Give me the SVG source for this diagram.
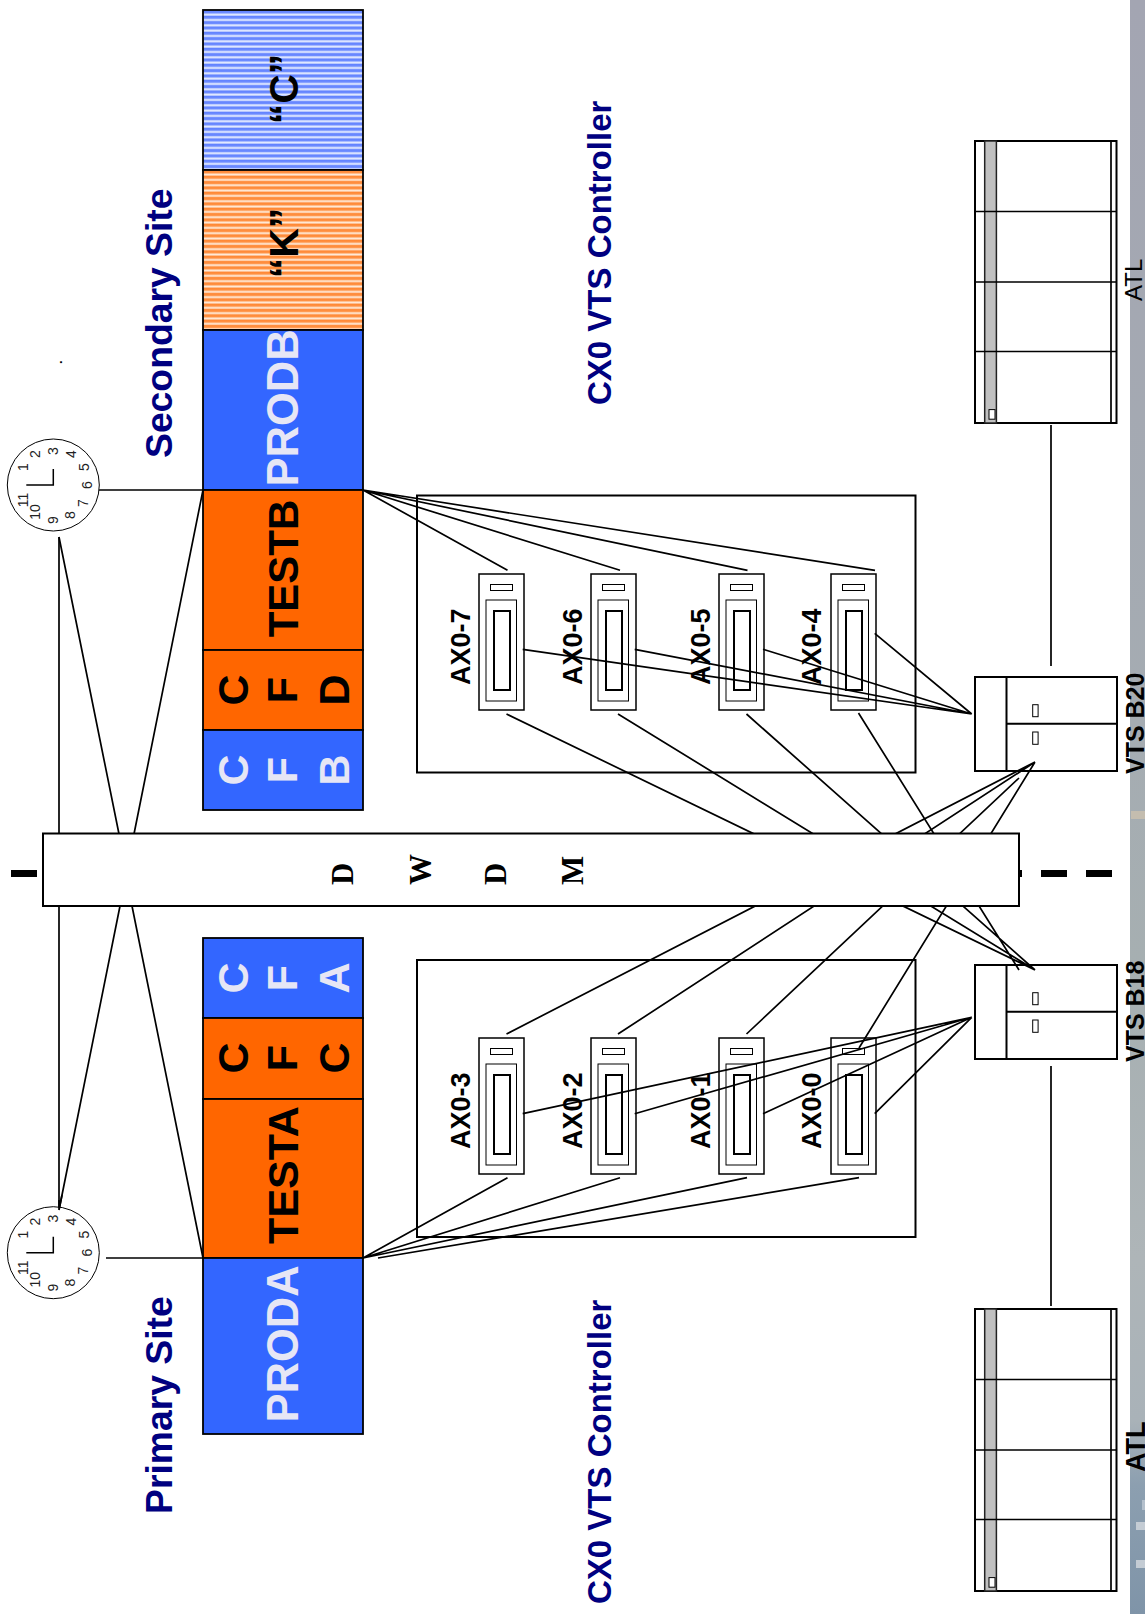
<svg xmlns="http://www.w3.org/2000/svg" width="1145" height="1614" viewBox="0 0 1145 1614">
<style>
.ln{stroke:#000;stroke-width:1.7;fill:none}
.box{stroke:#000;stroke-width:1.5;fill:#fff}
.thk{stroke:#000;stroke-width:2;fill:#fff}
.seg{stroke:#000;stroke-width:1.8}
text{font-family:"Liberation Sans",Arial,sans-serif}
.big{font-weight:700;font-size:43.500px;fill:#e6e6f5;text-anchor:middle}
.bl{font-weight:700;font-size:43.500px;fill:#000;text-anchor:middle}
.let{font-size:43px}
.navy{font-weight:700;fill:#000080}
.ax{font-weight:700;font-size:27px;fill:#000}
.dw{font-family:"Liberation Serif",serif;font-weight:700;font-size:31px;fill:#000}
.n{font-size:14px;fill:#222;text-anchor:middle}
</style>
<defs>
<linearGradient id="band" x1="0" y1="0" x2="0" y2="1">
<stop offset="0" stop-color="#a3a5b2"/><stop offset="0.45" stop-color="#a5acb2"/><stop offset="0.6" stop-color="#a6afb1"/><stop offset="0.78" stop-color="#aeb5b8"/><stop offset="0.88" stop-color="#a9b2b8"/><stop offset="0.92" stop-color="#8c9fb0"/><stop offset="1" stop-color="#7f94a8"/>
</linearGradient>
<linearGradient id="gb" x1="0" y1="0" x2="0" y2="1"><stop offset="0" stop-color="#5f80ff"/><stop offset="0.42" stop-color="#6f8dff"/><stop offset="0.62" stop-color="#c9d6ff"/><stop offset="0.8" stop-color="#f0f4ff"/><stop offset="1" stop-color="#90a8ff"/></linearGradient>
<linearGradient id="go" x1="0" y1="0" x2="0" y2="1"><stop offset="0" stop-color="#ff8632"/><stop offset="0.42" stop-color="#ff9245"/><stop offset="0.62" stop-color="#ffd2ae"/><stop offset="0.8" stop-color="#fff1e6"/><stop offset="1" stop-color="#ffa868"/></linearGradient>
<pattern id="pb" width="10" height="5.330" patternUnits="userSpaceOnUse"><rect width="10" height="5.330" fill="url(#gb)"/></pattern>
<pattern id="po" width="10" height="5.330" patternUnits="userSpaceOnUse"><rect width="10" height="5.330" fill="url(#go)"/></pattern>
<g id="dev">
<rect class="box" x="0" y="0" width="45" height="136"/>
<rect x="11.500" y="10.500" width="22" height="6" fill="#fff" stroke="#000" stroke-width="1"/>
<rect x="7" y="26" width="30.500" height="101" fill="#fff" stroke="#000" stroke-width="1"/>
<rect x="15" y="37" width="16" height="79" fill="#fff" stroke="#000" stroke-width="2"/>
</g>
<g id="vts">
<rect class="thk" x="0" y="0" width="142" height="94"/>
<path class="thk" d="M31.500 0V94M31.500 46.700H142"/>
<rect x="57.700" y="27.700" width="5.400" height="12" fill="#fff" stroke="#000" stroke-width="1"/>
<rect x="57.700" y="55" width="5.400" height="12.300" fill="#fff" stroke="#000" stroke-width="1"/>
</g>
<g id="atl">
<rect class="thk" x="0" y="0" width="141.500" height="282"/>
<rect x="9.700" y="0" width="11.700" height="282" fill="#c0c0c0" stroke="#222" stroke-width="1.500"/>
<path class="ln" d="M136 0V282M0 70.500H141.500M0 141H141.500M0 210.500H141.500"/>
<rect x="14" y="268.600" width="6" height="9.600" fill="#fff" stroke="#000" stroke-width="1"/>
</g>
<g id="clock">
<circle cx="0" cy="0" r="46" fill="#fff" stroke="#000" stroke-width="1"/>
<path d="M-27 0H0V-16" fill="none" stroke="#000" stroke-width="1.500"/>
<text class="n" transform="translate(-30,-18) rotate(-90)" y="5">1</text>
<text class="n" transform="translate(-18,-31) rotate(-90)" y="5">2</text>
<text class="n" transform="translate(0,-34) rotate(-90)" y="5">3</text>
<text class="n" transform="translate(18,-31) rotate(-90)" y="5">4</text>
<text class="n" transform="translate(31,-18) rotate(-90)" y="5">5</text>
<text class="n" transform="translate(34,0) rotate(-90)" y="5">6</text>
<text class="n" transform="translate(30,18) rotate(-90)" y="5">7</text>
<text class="n" transform="translate(17,30) rotate(-90)" y="5">8</text>
<text class="n" transform="translate(0,35) rotate(-90)" y="5">9</text>
<text class="n" transform="translate(-18,27) rotate(-90)" y="5">10</text>
<text class="n" transform="translate(-30,15) rotate(-90)" y="5">11</text>
</g>
</defs>
<rect width="1145" height="1614" fill="#fff"/>
<g id="band-right">
<rect x="1130" y="0" width="15" height="1614" fill="url(#band)"/>
<rect x="1131" y="811" width="14" height="8" fill="#c4bdaf"/>
<rect x="1136" y="1522" width="9" height="8" fill="#c4ccd4"/>
<rect x="1136" y="1560" width="9" height="8" fill="#c4ccd4"/>
<rect x="1142" y="1500" width="3" height="10" fill="#b4c0cc"/>
</g>

<g id="storage-upper">
<rect class="seg" x="203" y="10" width="160" height="160" fill="url(#pb)"/>
<rect class="seg" x="203" y="170" width="160" height="160" fill="url(#po)"/>
<rect class="seg" x="203" y="330" width="160" height="160" fill="#3366ff"/>
<rect class="seg" x="203" y="490" width="160" height="160" fill="#ff6600"/>
<rect class="seg" x="203" y="650" width="160" height="80" fill="#ff6600"/>
<rect class="seg" x="203" y="730" width="160" height="80" fill="#3366ff"/>
<text class="bl" transform="translate(298,89) rotate(-90)" style="font-size:41px">“C”</text>
<text class="bl" transform="translate(298,243) rotate(-90)" style="font-size:41px">“K”</text>
<text class="big" transform="translate(298,408) rotate(-90)">PRODB</text>
<text class="bl" transform="translate(298,568.500) rotate(-90)" style="font-size:42px">TESTB</text>
<text class="bl let" transform="translate(248,690) rotate(-90)">C</text>
<text class="bl let" transform="translate(297,690) rotate(-90)">F</text>
<text class="bl let" transform="translate(349,690) rotate(-90)">D</text>
<text class="big let" transform="translate(248,770) rotate(-90)">C</text>
<text class="big let" transform="translate(297,770) rotate(-90)">F</text>
<text class="big let" transform="translate(349,770) rotate(-90)">B</text>
</g>
<g id="storage-lower">
<rect class="seg" x="203" y="938" width="160" height="80" fill="#3366ff"/>
<rect class="seg" x="203" y="1018" width="160" height="81" fill="#ff6600"/>
<rect class="seg" x="203" y="1099" width="160" height="159" fill="#ff6600"/>
<rect class="seg" x="203" y="1258" width="160" height="176" fill="#3366ff"/>
<text class="big let" transform="translate(248,978) rotate(-90)">C</text>
<text class="big let" transform="translate(297,978) rotate(-90)">F</text>
<text class="big let" transform="translate(349,978) rotate(-90)">A</text>
<text class="bl let" transform="translate(248,1058) rotate(-90)">C</text>
<text class="bl let" transform="translate(297,1058) rotate(-90)">F</text>
<text class="bl let" transform="translate(349,1058) rotate(-90)">C</text>
<text class="bl" transform="translate(298,1175) rotate(-90)" style="font-size:43px">TESTA</text>
<text class="big" transform="translate(298,1344) rotate(-90)">PRODA</text>
</g>

<g id="ctrl-upper"><rect x="417" y="495.500" width="498.500" height="277" fill="none" stroke="#000" stroke-width="2"/></g>
<g id="ctrl-lower"><rect x="417" y="960" width="498.500" height="277" fill="none" stroke="#000" stroke-width="2"/></g>

<use id="vts-b20" href="#vts" x="975" y="677"/>
<use id="vts-b18" href="#vts" x="975" y="965"/>
<use id="atl-up" href="#atl" x="975" y="141"/>
<use id="atl-low" href="#atl" x="975" y="1309"/>
<use id="AX0-7" href="#dev" x="479" y="574"/>
<use id="AX0-6" href="#dev" x="591" y="574"/>
<use id="AX0-5" href="#dev" x="719" y="574"/>
<use id="AX0-4" href="#dev" x="831" y="574"/>
<use id="AX0-3" href="#dev" x="479" y="1038"/>
<use id="AX0-2" href="#dev" x="591" y="1038"/>
<use id="AX0-1" href="#dev" x="719" y="1038"/>
<use id="AX0-0" href="#dev" x="831" y="1038"/>

<g id="connectors" class="ln">
<path d="M59 537V1210"/>
<path d="M59 537L119 834M59 1210L120 906M203 490L134 834M203 1258L132 906"/>
<path d="M90 490H203M106 1258H203"/>
<path d="M363 490L507.500 570.300M363 490L620 570.300M363 490L747.500 570.300M363 490L875 570.300"/>
<path d="M363 1258L507.500 1177.700M363 1258L620 1177.700M363 1258L747 1177.700M378 1258L859 1177.700"/>
<path d="M1051 425V666M1051 1066V1306"/>
<path d="M506.500 714L1035 970M618 714L1035 970M746.500 714L1035 970M858.500 713L1019 970"/>
<path d="M506.500 1034L1035 762M618 1034L1035 762M746.500 1034L1019 778M859 1048L1035 762"/>
<path d="M522.700 649.300L971.700 714M634.700 649.300L971.700 714M763 649.300L971.700 714M874.700 633.300L971.700 714"/>
<path d="M522.700 1113.700L971.700 1017.300M634.700 1113.700L971.700 1017.300M763 1113.700L971.700 1017.300M874.700 1113.700L971.700 1017.300"/>
</g>
<g id="dash" stroke="#000" stroke-width="7" fill="none"><path d="M11 873.500H37M1019 873.500H1022M1041 873.500H1067M1086 873.500H1112"/></g>

<g id="dwdm">
<rect x="43" y="833.500" width="976" height="72.500" fill="#fff" stroke="#000" stroke-width="2"/>
<text class="dw" transform="translate(353,885) rotate(-90)">D</text>
<text class="dw" transform="translate(431,885) rotate(-90)">W</text>
<text class="dw" transform="translate(506,885) rotate(-90)">D</text>
<text class="dw" transform="translate(583,885) rotate(-90)">M</text>
</g>

<use id="clock-sec" href="#clock" x="53.300" y="485"/>
<use id="clock-pri" href="#clock" x="53.300" y="1252.700"/>
<path id="clock-link" class="ln" d="M59 1210L62 1195M59 1210L59 1200"/>

<g id="labels">
<text class="ax" transform="translate(470,685) rotate(-90)">AX0-7</text>
<text class="ax" transform="translate(582,685) rotate(-90)">AX0-6</text>
<text class="ax" transform="translate(710,685) rotate(-90)">AX0-5</text>
<text class="ax" transform="translate(821,685) rotate(-90)">AX0-4</text>
<text class="ax" transform="translate(470,1149) rotate(-90)">AX0-3</text>
<text class="ax" transform="translate(582,1149) rotate(-90)">AX0-2</text>
<text class="ax" transform="translate(710,1149) rotate(-90)">AX0-1</text>
<text class="ax" transform="translate(821,1149) rotate(-90)">AX0-0</text>
<text class="navy" font-size="37.300" transform="translate(172,458) rotate(-90)">Secondary Site</text>
<text class="navy" font-size="37.300" transform="translate(172,1514) rotate(-90)">Primary Site</text>
<text class="navy" font-size="33" transform="translate(611,405) rotate(-90)">CX0 VTS Controller</text>
<text class="navy" font-size="33" transform="translate(611,1604) rotate(-90)">CX0 VTS Controller</text>
<text font-size="24" fill="#000" transform="translate(1142,301) rotate(-90)">ATL</text>
<text font-size="27" font-weight="700" fill="#000" transform="translate(1145,1472) rotate(-90)">ATL</text>
<text font-size="25" font-weight="700" fill="#000" transform="translate(1144,774) rotate(-90)">VTS B20</text>
<text font-size="25" font-weight="700" fill="#000" transform="translate(1144,1062) rotate(-90)">VTS B18</text>
<text font-size="13" font-weight="700" fill="#000" transform="translate(61.500,364) rotate(-90)">.</text>
</g>
</svg>
